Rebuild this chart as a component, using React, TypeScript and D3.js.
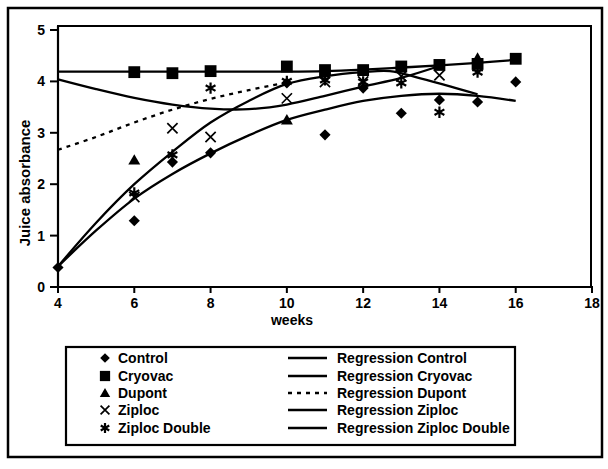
import * as d3 from 'd3';

// ---- measured data (weeks vs juice absorbance) ----
const controlWeeks = [4, 6, 7, 8, 10, 11, 12, 13, 14, 15, 16];
const controlValues = [0.38, 1.29, 2.43, 2.61, 3.97, 2.96, 3.87, 3.38, 3.64, 3.6, 3.99];

const cryovacWeeks = [6, 7, 8, 10, 11, 12, 13, 14, 15, 16];
const cryovacValues = [4.18, 4.16, 4.2, 4.29, 4.22, 4.22, 4.29, 4.32, 4.34, 4.44];

const dupontWeeks = [6, 10, 15];
const dupontValues = [2.47, 3.25, 4.45];

const ziplocWeeks = [6, 7, 8, 10, 11, 12, 13, 14, 15];
const ziplocValues = [1.75, 3.09, 2.92, 3.67, 3.99, 4.0, 4.1, 4.12, 4.3];

const doubleWeeks = [6, 7, 8, 10, 11, 12, 13, 14, 15];
const doubleValues = [1.83, 2.57, 3.87, 4.0, 4.03, 3.99, 3.97, 3.4, 4.18];

// ---- regression curves ----
const regControlWeeks = [4, 5, 6, 7, 8, 9, 10, 11, 12, 13, 14, 15, 16];
const regControlValues = [0.4, 1.1, 1.72, 2.2, 2.6, 2.95, 3.25, 3.45, 3.62, 3.72, 3.76, 3.72, 3.62];

const regCryovacWeeks = [4, 6, 8, 10, 11, 12, 13, 14, 15, 16];
const regCryovacValues = [4.19, 4.19, 4.19, 4.19, 4.2, 4.23, 4.27, 4.31, 4.36, 4.42];

const regDupontWeeks = [4, 5, 6, 7, 8, 9, 10];
const regDupontValues = [2.67, 2.92, 3.2, 3.45, 3.66, 3.83, 3.98];

const regZiplocWeeks = [4, 5, 6, 7, 8, 9, 10, 11, 12, 12.7, 13.5, 14.3, 15];
const regZiplocValues = [0.4, 1.25, 2.0, 2.63, 3.2, 3.62, 3.95, 4.1, 4.18, 4.2, 4.06, 3.9, 3.75];

const regDoubleWeeks = [4, 5, 6, 7, 8, 9, 10, 11, 12, 13, 14];
const regDoubleValues = [4.04, 3.85, 3.68, 3.55, 3.47, 3.46, 3.55, 3.72, 3.9, 4.07, 4.3];

const xTicks = [4, 6, 8, 10, 12, 14, 16, 18];
const yTicks = [0, 1, 2, 3, 4, 5];

const markerLabels = ['Control', 'Cryovac', 'Dupont', 'Ziploc', 'Ziploc Double'];
const regressionLabels = [
  'Regression Control',
  'Regression Cryovac',
  'Regression Dupont',
  'Regression Ziploc',
  'Regression Ziploc Double',
];

const FONT = '"Liberation Sans", Arial, sans-serif';

type Kind = 'diamond' | 'square' | 'triangle' | 'times' | 'asterisk';

function Marker({ kind, x, y, s = 1 }: { kind: Kind; x: number; y: number; s?: number }) {
  if (kind === 'diamond') {
    const d = d3.symbol(d3.symbolSquare, 62 * s)()!;
    return <path d={d} transform={`translate(${x},${y}) rotate(45)`} fill="#000" />;
  }
  if (kind === 'square') {
    const d = d3.symbol(d3.symbolSquare, 140 * s)()!;
    return <path d={d} transform={`translate(${x},${y})`} fill="#000" />;
  }
  if (kind === 'triangle') {
    const d = d3.symbol(d3.symbolTriangle, 62 * s)()!;
    return <path d={d} transform={`translate(${x},${y + 1})`} fill="#000" />;
  }
  if (kind === 'times') {
    const d = d3.symbol(d3.symbolTimes, 70 * s)()!;
    return <path d={d} transform={`translate(${x},${y})`} fill="none" stroke="#000" strokeWidth={1.7} />;
  }
  const d = d3.symbol(d3.symbolAsterisk, 90 * s)()!;
  return <path d={d} transform={`translate(${x},${y})`} fill="none" stroke="#000" strokeWidth={2.2} />;
}

export default function App() {
  const x = d3.scaleLinear().domain([4, 18]).range([58, 592]);
  const y = d3.scaleLinear().domain([0, 5]).range([287, 30]);

  const line = d3
    .line<[number, number]>()
    .x((d) => x(d[0]))
    .y((d) => y(d[1]))
    .curve(d3.curveCatmullRom);

  const zipPts = (w: number[], v: number[]) => w.map((wk, i) => [wk, v[i]] as [number, number]);

  const regressions = [
    { pts: zipPts(regControlWeeks, regControlValues), dash: undefined },
    { pts: zipPts(regCryovacWeeks, regCryovacValues), dash: undefined },
    { pts: zipPts(regDupontWeeks, regDupontValues), dash: '4 5' },
    { pts: zipPts(regZiplocWeeks, regZiplocValues), dash: undefined },
    { pts: zipPts(regDoubleWeeks, regDoubleValues), dash: undefined },
  ];

  const series: { kind: Kind; pts: [number, number][] }[] = [
    { kind: 'diamond', pts: zipPts(controlWeeks, controlValues) },
    { kind: 'square', pts: zipPts(cryovacWeeks, cryovacValues) },
    { kind: 'triangle', pts: zipPts(dupontWeeks, dupontValues) },
    { kind: 'times', pts: zipPts(ziplocWeeks, ziplocValues) },
    { kind: 'asterisk', pts: zipPts(doubleWeeks, doubleValues) },
  ];

  const legendRows = [362, 380, 397, 414, 432];

  return (
    <svg
      width={608}
      height={469}
      style={{ position: 'absolute', left: 0, top: 0, background: '#fff' }}
      fontFamily={FONT}
    >
      {/* outer frame */}
      <rect x={8} y={8} width={594} height={449} fill="none" stroke="#000" strokeWidth={2.5} />

      {/* plot frame */}
      <rect x={58} y={26} width={533} height={261} fill="none" stroke="#000" strokeWidth={2} />

      {/* y axis */}
      <line x1={58} x2={58} y1={26} y2={288} stroke="#000" strokeWidth={2.2} />
      {yTicks.map((t) => (
        <g key={'y' + t}>
          <line x1={50} x2={58} y1={y(t)} y2={y(t)} stroke="#000" strokeWidth={2} />
          <text x={45} y={y(t) + 5} textAnchor="end" fontSize={14} fontWeight="bold">
            {t}
          </text>
        </g>
      ))}

      {/* x axis */}
      <line x1={57} x2={593} y1={287} y2={287} stroke="#000" strokeWidth={2.2} />
      {xTicks.map((t) => (
        <g key={'x' + t}>
          <line x1={x(t)} x2={x(t)} y1={287} y2={293} stroke="#000" strokeWidth={2} />
          <text x={x(t)} y={308} textAnchor="middle" fontSize={14} fontWeight="bold">
            {t}
          </text>
        </g>
      ))}

      <text x={292} y={325} textAnchor="middle" fontSize={14} fontWeight="bold">
        weeks
      </text>
      <text
        transform="translate(30,183) rotate(-90)"
        textAnchor="middle"
        fontSize={15}
        fontWeight="bold"
      >
        Juice absorbance
      </text>

      {/* regression lines */}
      {regressions.map((r, i) => (
        <path
          key={'r' + i}
          d={line(r.pts)!}
          fill="none"
          stroke="#000"
          strokeWidth={2.3}
          strokeDasharray={r.dash}
        />
      ))}

      {/* data markers */}
      {series.map((s) =>
        s.pts.map((p, j) => <Marker key={s.kind + j} kind={s.kind} x={x(p[0])} y={y(p[1])} />)
      )}

      {/* legend */}
      <rect x={66} y={347} width={449} height={98} fill="none" stroke="#000" strokeWidth={2.2} />
      {markerLabels.map((lab, i) => (
        <g key={lab}>
          <Marker kind={series[i].kind} x={105} y={legendRows[i] - 4} s={0.75} />
          <text x={118} y={legendRows[i] + 1} fontSize={14} fontWeight="bold">
            {lab}
          </text>
        </g>
      ))}
      {regressionLabels.map((lab, i) => (
        <g key={lab}>
          <line
            x1={288}
            x2={327}
            y1={legendRows[i] - 4}
            y2={legendRows[i] - 4}
            stroke="#000"
            strokeWidth={2.3}
            strokeDasharray={regressions[i].dash}
          />
          <text x={337} y={legendRows[i] + 1} fontSize={14} fontWeight="bold">
            {lab}
          </text>
        </g>
      ))}
    </svg>
  );
}
